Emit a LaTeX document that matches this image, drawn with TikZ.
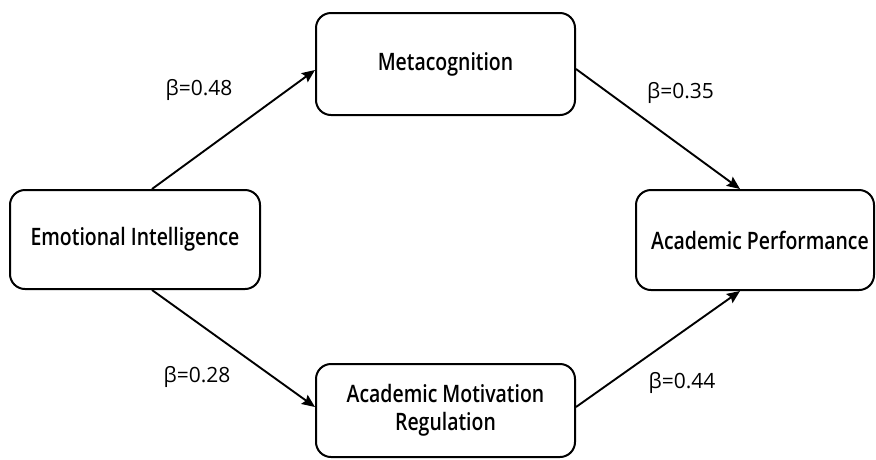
\documentclass[tikz,border=0pt]{standalone}
\usepackage{fontspec}
\setmainfont{Open Sans}[BoldFont={Open Sans Semibold},BoldFeatures={FakeStretch=0.81}]
\usetikzlibrary{arrows.meta}
\tikzset{
  box/.style={draw=black, line width=2pt, rounded corners=15pt, fill=white,
    align=center, inner sep=0pt, font=\fontsize{24}{28.5}\selectfont\bfseries},
  link/.style={line width=1.9pt, -{Stealth[length=13pt,width=11pt,inset=2pt]}},
  coef/.style={font=\fontsize{21}{25}\selectfont, inner sep=0pt}
}
\begin{document}
\begin{tikzpicture}[x=1pt,y=-1pt]
\useasboundingbox (0,0) rectangle (876,459);
\fill[white] (0,0) rectangle (876,459);
\node[box, minimum width=250pt, minimum height=99pt] (EI) at (135,239.5) {Emotional Intelligence};
\node[box, minimum width=259pt, minimum height=102pt] (MC) at (445.5,64) {Metacognition};
\node[box, minimum width=259pt, minimum height=93pt] (AMR) at (445.5,410.5) {Academic Motivation\\Regulation};
\node[box, minimum width=238pt, minimum height=100pt] (AP) at (755,240) {\hspace*{10pt}Academic Performance};
\draw[link] ([xshift=17pt]EI.north) -- ([yshift=-6pt]MC.west);
\draw[link] ([xshift=17pt]EI.south) -- ([yshift=3.5pt]AMR.west);
\draw[link] ([yshift=-5pt]MC.east) -- ([xshift=-15pt]AP.north);
\draw[link] ([yshift=3.5pt]AMR.east) -- ([xshift=-15pt]AP.south);
\node[coef] (c1) at (199,90) {β=0.48};
\node[coef] (c2) at (680.5,93) {β=0.35};
\node[coef] (c3) at (197,377) {β=0.28};
\node[coef] (c4) at (682,383) {β=0.44};
\end{tikzpicture}
\end{document}
